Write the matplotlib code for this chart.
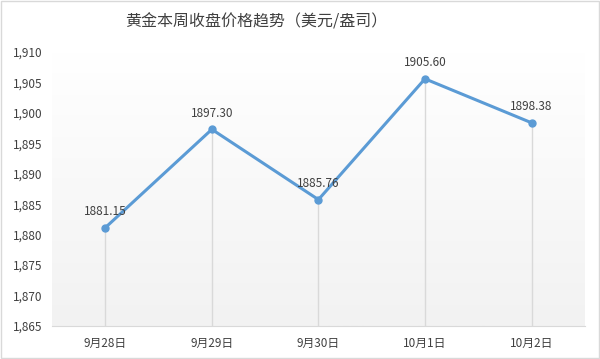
import numpy as np
import matplotlib
matplotlib.use("Agg")
import matplotlib.pyplot as plt
from matplotlib.colors import LinearSegmentedColormap
from matplotlib.ticker import FuncFormatter

plt.rcParams['font.family'] = ['Noto Sans CJK SC', 'DejaVu Sans']

dates = ["9月28日", "9月29日", "9月30日", "10月1日", "10月2日"]
prices = [1881.15, 1897.30, 1885.76, 1905.60, 1898.38]
title = "黄金本周收盘价格趋势（美元/盎司）"

ymin, ymax = 1865, 1910

fig = plt.figure(figsize=(6, 3.59), dpi=100)
ax = fig.add_axes([0.0867, 0.092, 0.888, 0.763])

x = np.arange(len(dates))
xlo, xhi = -0.5, len(dates) - 0.5

# background gradient, white on top to light grey at bottom
cmap = LinearSegmentedColormap.from_list("bg", ["#f2f2f2", "#ffffff"])
grad = np.linspace(0, 1, 256).reshape(-1, 1)
ax.imshow(grad, cmap=cmap, aspect="auto", origin="lower",
          extent=[xlo, xhi, ymin, ymax], zorder=0)

ax.vlines(x, ymin, prices, color="#d9d9d9", lw=1, zorder=1)
ax.plot(x, prices, color="#5b9bd5", lw=2.2, marker="o", ms=5, zorder=3)
for xi, p in zip(x, prices):
    ax.annotate(f"{p:.2f}", (xi, p), xytext=(0, 7), textcoords="offset points",
                ha="center", va="bottom", fontsize=8.5, color="#404040")

ax.set_xlim(xlo, xhi)
ax.set_ylim(ymin, ymax)
ax.set_xticks(x)
ax.set_xticklabels(dates)
ax.set_yticks(np.arange(ymin, ymax + 1, 5))
ax.yaxis.set_major_formatter(FuncFormatter(lambda v, _: f"{v:,.0f}"))
ax.tick_params(length=0, labelsize=8.5, labelcolor="#404040")
ax.tick_params(axis="x", pad=8)
ax.tick_params(axis="y", pad=7)
for s in ["top", "right", "left"]:
    ax.spines[s].set_visible(False)
ax.spines["bottom"].set_color("#d9d9d9")

fig.text(0.427, 0.94, title, ha="center", va="center", fontsize=11.5, color="#404040")

# thin frame around the whole picture
fig.patches.append(plt.Rectangle((0.002, 0.003), 0.996, 0.994, transform=fig.transFigure,
                                 fill=False, edgecolor="#d9d9d9", lw=1))

fig.savefig("out.png", dpi=100)
